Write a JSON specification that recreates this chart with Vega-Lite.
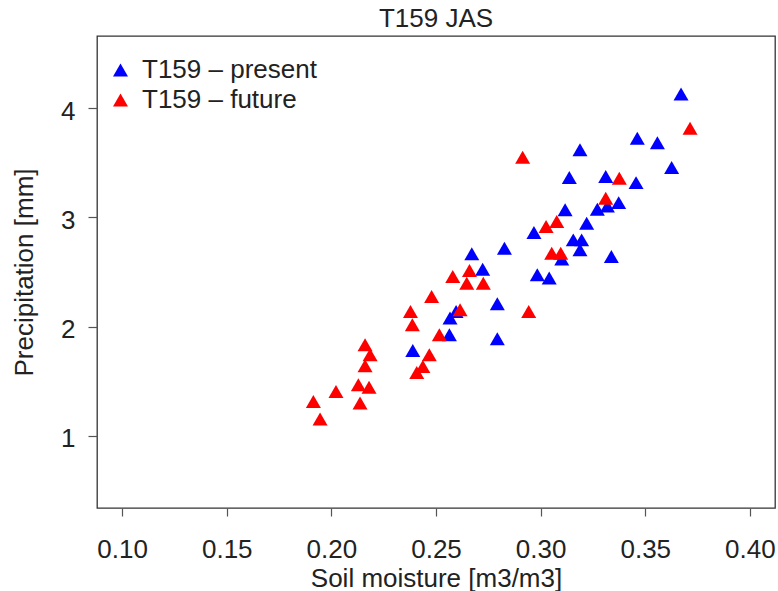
{
  "$schema": "https://vega.github.io/schema/vega-lite/v6.json",
  "width": 678,
  "height": 472,
  "autosize": {"type": "none"},
  "padding": {"left": 97, "top": 36, "right": 3, "bottom": 83},
  "background": "white",
  "config": {
    "view": {"stroke": "#333", "strokeWidth": 1.3},
    "font": "Liberation Sans"
  },
  "title": {
    "text": "T159 JAS",
    "fontSize": 26,
    "fontWeight": "normal",
    "color": "#222",
    "anchor": "middle",
    "baseline": "alphabetic",
    "offset": 8,
    "dy": 25,
    "frame": "group"
  },
  "data": {
    "values": [
      {"run": "T159 – present", "soil": 0.3671, "precip": 4.130},
      {"run": "T159 – present", "soil": 0.3462, "precip": 3.725},
      {"run": "T159 – present", "soil": 0.3558, "precip": 3.684},
      {"run": "T159 – present", "soil": 0.3188, "precip": 3.618},
      {"run": "T159 – present", "soil": 0.3626, "precip": 3.456},
      {"run": "T159 – present", "soil": 0.3137, "precip": 3.364},
      {"run": "T159 – present", "soil": 0.3311, "precip": 3.373},
      {"run": "T159 – present", "soil": 0.3456, "precip": 3.318},
      {"run": "T159 – present", "soil": 0.3373, "precip": 3.135},
      {"run": "T159 – present", "soil": 0.3271, "precip": 3.075},
      {"run": "T159 – present", "soil": 0.3319, "precip": 3.105},
      {"run": "T159 – present", "soil": 0.3117, "precip": 3.069},
      {"run": "T159 – present", "soil": 0.3220, "precip": 2.947},
      {"run": "T159 – present", "soil": 0.2968, "precip": 2.861},
      {"run": "T159 – present", "soil": 0.3156, "precip": 2.794},
      {"run": "T159 – present", "soil": 0.3196, "precip": 2.794},
      {"run": "T159 – present", "soil": 0.3188, "precip": 2.703},
      {"run": "T159 – present", "soil": 0.3101, "precip": 2.618},
      {"run": "T159 – present", "soil": 0.3338, "precip": 2.641},
      {"run": "T159 – present", "soil": 0.2984, "precip": 2.474},
      {"run": "T159 – present", "soil": 0.3041, "precip": 2.444},
      {"run": "T159 – present", "soil": 0.2671, "precip": 2.666},
      {"run": "T159 – present", "soil": 0.2827, "precip": 2.718},
      {"run": "T159 – present", "soil": 0.2723, "precip": 2.526},
      {"run": "T159 – present", "soil": 0.2793, "precip": 2.209},
      {"run": "T159 – present", "soil": 0.2596, "precip": 2.138},
      {"run": "T159 – present", "soil": 0.2567, "precip": 2.078},
      {"run": "T159 – present", "soil": 0.2564, "precip": 1.925},
      {"run": "T159 – present", "soil": 0.2793, "precip": 1.888},
      {"run": "T159 – present", "soil": 0.2389, "precip": 1.781},
      {"run": "T159 – future", "soil": 0.3714, "precip": 3.816},
      {"run": "T159 – future", "soil": 0.2914, "precip": 3.551},
      {"run": "T159 – future", "soil": 0.3376, "precip": 3.359},
      {"run": "T159 – future", "soil": 0.3311, "precip": 3.176},
      {"run": "T159 – future", "soil": 0.3026, "precip": 2.916},
      {"run": "T159 – future", "soil": 0.3077, "precip": 2.962},
      {"run": "T159 – future", "soil": 0.3053, "precip": 2.672},
      {"run": "T159 – future", "soil": 0.3096, "precip": 2.672},
      {"run": "T159 – future", "soil": 0.2660, "precip": 2.513},
      {"run": "T159 – future", "soil": 0.2580, "precip": 2.458},
      {"run": "T159 – future", "soil": 0.2647, "precip": 2.398},
      {"run": "T159 – future", "soil": 0.2726, "precip": 2.398},
      {"run": "T159 – future", "soil": 0.2479, "precip": 2.275},
      {"run": "T159 – future", "soil": 0.2378, "precip": 2.138},
      {"run": "T159 – future", "soil": 0.2615, "precip": 2.154},
      {"run": "T159 – future", "soil": 0.2943, "precip": 2.138},
      {"run": "T159 – future", "soil": 0.2387, "precip": 2.017},
      {"run": "T159 – future", "soil": 0.2516, "precip": 1.925},
      {"run": "T159 – future", "soil": 0.2468, "precip": 1.742},
      {"run": "T159 – future", "soil": 0.2437, "precip": 1.635},
      {"run": "T159 – future", "soil": 0.2408, "precip": 1.580},
      {"run": "T159 – future", "soil": 0.2161, "precip": 1.834},
      {"run": "T159 – future", "soil": 0.2185, "precip": 1.742},
      {"run": "T159 – future", "soil": 0.2161, "precip": 1.641},
      {"run": "T159 – future", "soil": 0.2129, "precip": 1.467},
      {"run": "T159 – future", "soil": 0.2180, "precip": 1.446},
      {"run": "T159 – future", "soil": 0.2022, "precip": 1.406},
      {"run": "T159 – future", "soil": 0.1914, "precip": 1.315},
      {"run": "T159 – future", "soil": 0.2137, "precip": 1.300},
      {"run": "T159 – future", "soil": 0.1946, "precip": 1.154}
    ]
  },
  "mark": {"type": "point", "shape": "triangle-up", "filled": true, "size": 225, "opacity": 1, "strokeWidth": 0},
  "encoding": {
    "x": {
      "field": "soil",
      "type": "quantitative",
      "scale": {"domain": [0.088, 0.412], "nice": false, "zero": false},
      "axis": {
        "values": [0.1, 0.15, 0.2, 0.25, 0.3, 0.35, 0.4],
        "format": ".2f",
        "domain": false,
        "grid": false,
        "tickSize": 8,
        "tickColor": "#555",
        "tickWidth": 1.2,
        "labelFontSize": 26,
        "labelColor": "#222",
        "labelPadding": 20,
        "labelFlush": false,
        "labelOverlap": false,
        "title": "Soil moisture [m3/m3]",
        "titleFontSize": 26,
        "titleFontWeight": "normal",
        "titleColor": "#222",
        "titleBaseline": "alphabetic",
        "titleAlign": "center",
        "titleX": 339,
        "titleY": 78
      }
    },
    "y": {
      "field": "precip",
      "type": "quantitative",
      "scale": {"domain": [0.34, 4.66], "nice": false, "zero": false},
      "axis": {
        "values": [1, 2, 3, 4],
        "format": "d",
        "domain": false,
        "grid": false,
        "tickSize": 9,
        "tickColor": "#555",
        "tickWidth": 1.2,
        "labelFontSize": 26,
        "labelColor": "#222",
        "labelPadding": 13,
        "labelAngle": 0,
        "labelOffset": 3,
        "title": "Precipitation [mm]",
        "titleFontSize": 26,
        "titleFontWeight": "normal",
        "titleColor": "#222",
        "titleAngle": -90,
        "titleBaseline": "alphabetic",
        "titleAlign": "center",
        "titleX": -65,
        "titleY": 236
      }
    },
    "color": {
      "field": "run",
      "type": "nominal",
      "sort": null,
      "scale": {"domain": ["T159 – present", "T159 – future"], "range": ["#0000ff", "#ff0000"]},
      "legend": {
        "title": null,
        "orient": "none",
        "legendX": 10.5,
        "legendY": 21,
        "padding": 0,
        "labelFontSize": 26,
        "labelColor": "#222",
        "labelLimit": 0,
        "symbolSize": 225,
        "symbolType": "triangle-up",
        "symbolStrokeWidth": 0,
        "rowPadding": 4,
        "labelOffset": 8.5
      }
    }
  }
}
